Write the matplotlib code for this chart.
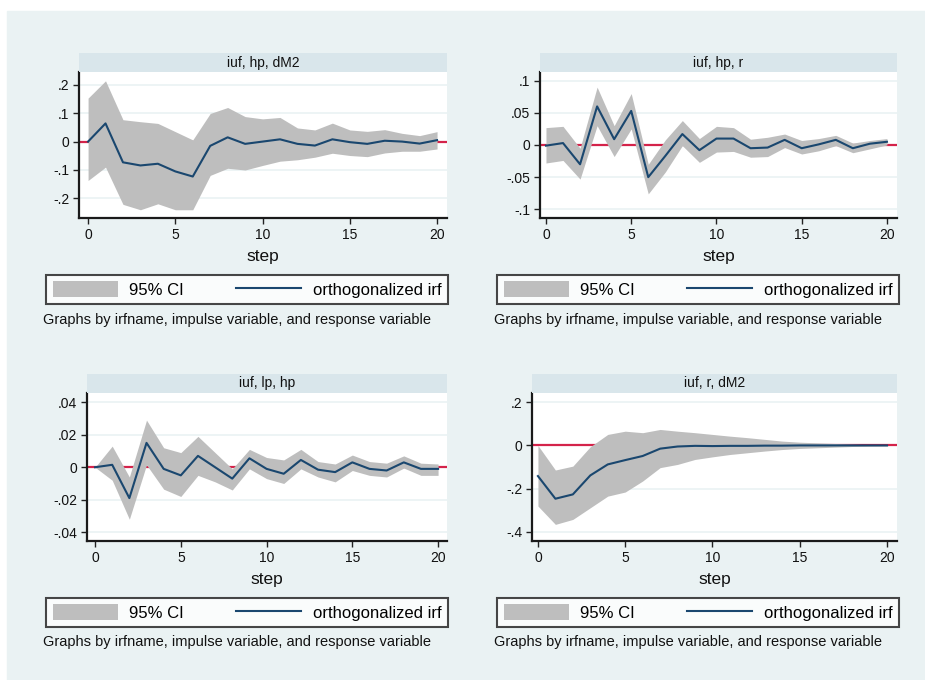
import numpy as np
import matplotlib.pyplot as plt
from matplotlib.patches import Patch
from matplotlib.lines import Line2D
from matplotlib.ticker import FuncFormatter

plt.rcParams['font.family'] = ['Liberation Sans', 'DejaVu Sans']

# Orthogonalized IRFs with 95% bands, steps 0..20
steps = list(range(21))

# iuf, hp, dM2
irf_hp_dm2 = [0.0, 0.064, -0.073, -0.084, -0.078, -0.105, -0.123, -0.015, 0.015, -0.008, 0.0,
              0.008, -0.008, -0.014, 0.008, -0.002, -0.008, 0.003, 0.0, -0.007, 0.005]
hi_hp_dm2 = [0.153, 0.214, 0.077, 0.070, 0.064, 0.035, 0.006, 0.099, 0.120, 0.088, 0.080,
             0.085, 0.048, 0.041, 0.065, 0.041, 0.036, 0.042, 0.029, 0.021, 0.035]
lo_hp_dm2 = [-0.137, -0.090, -0.221, -0.240, -0.219, -0.240, -0.240, -0.119, -0.094, -0.100, -0.084,
             -0.069, -0.064, -0.055, -0.041, -0.049, -0.053, -0.040, -0.034, -0.034, -0.026]

# iuf, hp, r
irf_hp_r = [-0.001, 0.003, -0.030, 0.060, 0.009, 0.053, -0.050, -0.017, 0.017, -0.008, 0.010,
            0.010, -0.005, -0.004, 0.008, -0.005, 0.001, 0.008, -0.005, 0.002, 0.005]
hi_hp_r = [0.027, 0.029, -0.005, 0.090, 0.030, 0.080, -0.030, 0.008, 0.038, 0.010, 0.029,
           0.027, 0.009, 0.012, 0.017, 0.007, 0.010, 0.015, 0.003, 0.007, 0.010]
lo_hp_r = [-0.028, -0.024, -0.053, 0.030, -0.018, 0.025, -0.076, -0.042, -0.001, -0.027, -0.011,
           -0.010, -0.019, -0.018, -0.004, -0.014, -0.009, -0.001, -0.012, -0.006, 0.0]

# iuf, lp, hp
irf_lp_hp = [0.0, 0.0015, -0.019, 0.015, -0.001, -0.005, 0.007, 0.0, -0.007, 0.0055, -0.001,
             -0.004, 0.0045, -0.0015, -0.003, 0.003, -0.001, -0.002, 0.003, -0.001, -0.001]
hi_lp_hp = [0.0, 0.013, -0.006, 0.029, 0.012, 0.009, 0.019, 0.009, -0.001, 0.011, 0.006,
            0.0045, 0.011, 0.0035, 0.002, 0.0075, 0.0035, 0.0025, 0.007, 0.0025, 0.002]
lo_lp_hp = [0.0, -0.008, -0.032, 0.0015, -0.0135, -0.018, -0.005, -0.009, -0.014, -0.001, -0.007,
            -0.010, -0.001, -0.006, -0.009, -0.002, -0.005, -0.006, -0.0005, -0.005, -0.005]

# iuf, r, dM2
irf_r_dm2 = [-0.142, -0.247, -0.227, -0.139, -0.088, -0.068, -0.049, -0.015, -0.005, -0.002, -0.003,
             -0.002, -0.002, -0.001, -0.001, 0.0, 0.0, 0.0, 0.0, 0.0, 0.0]
hi_r_dm2 = [0.0, -0.114, -0.096, -0.006, 0.051, 0.066, 0.059, 0.074, 0.066, 0.059, 0.051,
            0.043, 0.036, 0.028, 0.020, 0.015, 0.012, 0.009, 0.006, 0.003, 0.002]
lo_r_dm2 = [-0.281, -0.366, -0.343, -0.289, -0.235, -0.216, -0.165, -0.103, -0.088, -0.065, -0.053,
            -0.042, -0.034, -0.026, -0.019, -0.014, -0.011, -0.008, -0.005, -0.003, -0.002]

titles = ['iuf, hp, dM2', 'iuf, hp, r', 'iuf, lp, hp', 'iuf, r, dM2']
yticks = [[-0.2, -0.1, 0, 0.1, 0.2],
          [-0.1, -0.05, 0, 0.05, 0.1],
          [-0.04, -0.02, 0, 0.02, 0.04],
          [-0.4, -0.2, 0, 0.2]]
ylims = [(-0.269, 0.245), (-0.1135, 0.1135), (-0.0454, 0.0457), (-0.443, 0.243)]
xlims = [(-0.52, 20.57), (-0.35, 20.59), (-0.47, 20.52), (-0.34, 20.57)]
series = [(irf_hp_dm2, lo_hp_dm2, hi_hp_dm2),
          (irf_hp_r, lo_hp_r, hi_hp_r),
          (irf_lp_hp, lo_lp_hp, hi_lp_hp),
          (irf_r_dm2, lo_r_dm2, hi_r_dm2)]

# pixel boxes: plot left, right, top, bottom; legend left, right, top, bottom; note x, y
W, H = 925, 680
boxes = [(79, 447, 72, 218, 46, 448, 273, 306, 43, 320),
         (540, 897, 72, 218, 497, 899, 273, 306, 494, 320),
         (87, 447, 393, 541, 46, 448, 597, 628, 43, 642),
         (532, 897, 393, 541, 497, 899, 597, 628, 494, 642)]

band_col = '#bebebe'
line_col = '#1a476f'
zero_col = '#d4234a'
bg_col = '#eaf2f3'
strip_col = '#d9e6eb'


def stata_fmt(v, pos):
    if abs(v) < 1e-12:
        return '0'
    s = ('%g' % v)
    return s.replace('0.', '.')


fig = plt.figure(figsize=(W / 100, H / 100), dpi=100)
fig.add_artist(plt.Rectangle((7 / W, 0), 1 - 7 / W, 1 - 11 / H,
                             transform=fig.transFigure, color=bg_col, zorder=-10))

for i in range(4):
    l, r, t, b, ll, lr, lt, lb, nx, ny = boxes[i]
    irf, lo, hi = series[i]

    ax = fig.add_axes([l / W, 1 - b / H, (r - l) / W, (b - t) / H])
    ax.set_facecolor('white')
    for y in yticks[i]:
        ax.axhline(y, color=bg_col, lw=1.2, zorder=0)
    ax.axhline(0, color=zero_col, lw=1.6, zorder=1)
    ax.fill_between(steps, lo, hi, color=band_col, lw=0, zorder=2)
    ax.plot(steps, irf, color=line_col, lw=1.5, zorder=3)

    ax.set_xlim(*xlims[i])
    ax.set_ylim(*ylims[i])
    ax.set_xticks([0, 5, 10, 15, 20])
    ax.set_yticks(yticks[i])
    ax.yaxis.set_major_formatter(FuncFormatter(stata_fmt))
    ax.tick_params(labelsize=10, length=4, width=1, color='#222222', pad=3, labelcolor='#111111')
    for side in ['top', 'right']:
        ax.spines[side].set_visible(False)
    for side in ['left', 'bottom']:
        ax.spines[side].set_linewidth(1.6)
        ax.spines[side].set_color('#1a1a1a')
    ax.set_xlabel('step', fontsize=12.5, labelpad=5, color='#111111')

    # title strip above the plot region
    sax = fig.add_axes([l / W, 1 - t / H, (r - l) / W, 19 / H])
    sax.set_facecolor(strip_col)
    sax.set_xticks([])
    sax.set_yticks([])
    for sp in sax.spines.values():
        sp.set_visible(False)
    sax.text(0.5, 0.5, titles[i], ha='center', va='center', fontsize=10, color='#111111')

    handles = [Patch(facecolor=band_col, edgecolor='none'),
               Line2D([0], [0], color=line_col, lw=1.5)]
    leg = ax.legend(handles, ['95% CI', 'orthogonalized irf'], ncol=2, mode='expand',
                    loc='center', bbox_to_anchor=(ll / W, 1 - lb / H, (lr - ll) / W, (lb - lt) / H),
                    bbox_transform=fig.transFigure, fontsize=12, frameon=True, fancybox=False,
                    handlelength=3.9, handleheight=1.05, handletextpad=0.7, borderaxespad=0,
                    borderpad=0.4, columnspacing=2.3)
    leg.get_frame().set_edgecolor('#1a1a1a')
    leg.get_frame().set_linewidth(1.5)

    fig.text(nx / W, 1 - ny / H, 'Graphs by irfname, impulse variable, and response variable',
             fontsize=10.5, ha='left', va='center', color='#111111')

fig.savefig('out.png', dpi=100)
